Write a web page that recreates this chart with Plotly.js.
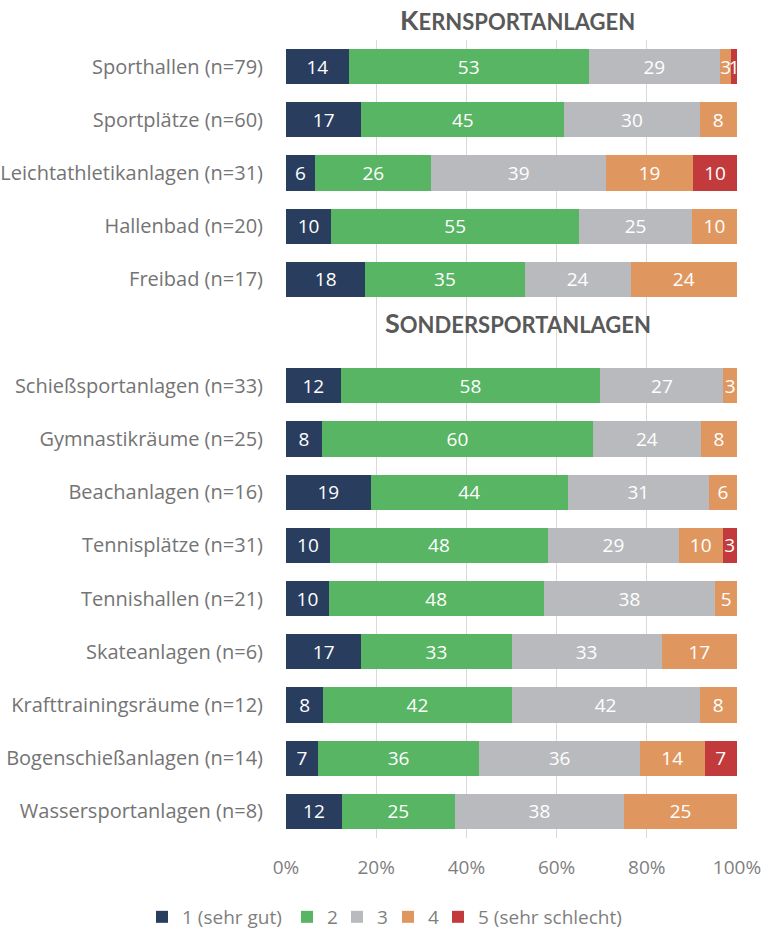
<!DOCTYPE html>
<html>
<head>
<meta charset="utf-8">
<script src="https://cdn.plot.ly/plotly-3.0.1.min.js"></script>
<style>html,body{margin:0;padding:0;background:#fff;}</style>
</head>
<body>
<div id="chart" style="width:763px;height:930px;"></div>
<script>
// Categories (top to bottom); ' ' is the spacer row for the second heading
const kernCategories = ['Sporthallen (n=79)', 'Sportplätze (n=60)', 'Leichtathletikanlagen (n=31)', 'Hallenbad (n=20)', 'Freibad (n=17)'];
const sonderCategories = ['Schießsportanlagen (n=33)', 'Gymnastikräume (n=25)', 'Beachanlagen (n=16)', 'Tennisplätze (n=31)', 'Tennishallen (n=21)', 'Skateanlagen (n=6)', 'Krafttrainingsräume (n=12)', 'Bogenschießanlagen (n=14)', 'Wassersportanlagen (n=8)'];
const spacer = ' ';
const categories = kernCategories.concat(sonderCategories);

// Percentages per rating (order matches `categories`)
const grade1 = [13.9, 16.7, 6.45, 10, 17.6, 12.1, 8, 18.75, 9.7, 9.5, 16.7, 8.3, 7.1, 12.4];
const grade2 = [53.2, 45, 25.8, 55, 35.3, 57.6, 60, 43.75, 48.4, 47.6, 33.3, 41.7, 35.7, 25];
const grade3 = [29.1, 30, 38.7, 25, 23.5, 27.3, 24, 31.25, 29.0, 38.1, 33.3, 41.7, 35.7, 37.6];
const grade4 = [2.53, 8.28, 19.35, 9.98, 23.58, 2.98, 7.98, 6.23, 9.7, 4.78, 16.68, 8.28, 14.3, 24.98];
const grade5 = [1.26, null, 9.68, null, null, null, null, null, 3.18, null, null, null, 7.18, null];

const seriesNames = ['1 (sehr gut)', '2', '3', '4', '5 (sehr schlecht)'];
const seriesValues = [grade1, grade2, grade3, grade4, grade5];
const seriesColors = ['#293D5E', '#57B563', '#B9BABD', '#E0975F', '#C23A3C'];

const xTickVals = [0, 20, 40, 60, 80, 100];
const xTickText = ['0%', '20%', '40%', '60%', '80%', '100%'];

const headingKern = 'Kernsportanlagen';
const headingSonder = 'Sondersportanlagen';

function smallCaps(word) {
  const w = word.toUpperCase();
  return '<span style="font-size:27px">' + w[0] + '</span><span style="font-size:22px">' + w.slice(1) + '</span>';
}

const FONT = '"Open Sans", "Noto Sans", sans-serif';
const HFONT = 'Lato, "Open Sans", sans-serif';

const W = 763;
// left edge (px) of each legend entry, one legend per series so the row does not wrap
const legendLeftPx = [142, 287, 337, 388, 438];
const legendIds = ['legend', 'legend2', 'legend3', 'legend4', 'legend5'];

const traces = seriesValues.map((vals, i) => ({
  type: 'bar',
  orientation: 'h',
  name: seriesNames[i],
  legend: legendIds[i],
  y: categories,
  x: vals,
  marker: {color: seriesColors[i], line: {width: 0}},
  texttemplate: '%{x:.0f}',
  textposition: 'inside',
  insidetextanchor: 'middle',
  constraintext: 'none',
  textfont: {color: '#ffffff', size: 19, family: FONT},
  hoverinfo: 'none',
  cliponaxis: false
}));

const layout = {
  width: W,
  height: 930,
  barmode: 'stack',
  bargap: 0.34,
  margin: {l: 286, r: 26, t: 40, b: 92},
  paper_bgcolor: '#ffffff',
  plot_bgcolor: '#ffffff',
  font: {family: FONT, color: '#747474', size: 19},
  showlegend: true,
  xaxis: {
    range: [0, 100],
    tickvals: xTickVals,
    ticktext: xTickText,
    showgrid: true,
    gridcolor: '#D9D9D9',
    gridwidth: 1,
    zeroline: false,
    showline: false,
    ticks: '',
    ticklabelstandoff: 16,
    tickfont: {size: 19, color: '#7f7f7f'},
    automargin: false,
    fixedrange: true
  },
  yaxis: {
    type: 'category',
    categoryorder: 'array',
    categoryarray: kernCategories.concat([spacer], sonderCategories),
    autorange: 'reversed',
    showgrid: false,
    zeroline: false,
    showline: false,
    ticks: '',
    ticklabelstandoff: 22,
    tickfont: {size: 20, color: '#747474'},
    automargin: false,
    fixedrange: true
  },
  annotations: [
    {text: smallCaps(headingKern), xref: 'paper', yref: 'paper', x: 0.5, y: 1, yanchor: 'bottom', yshift: 2, xshift: 6,
     showarrow: false, font: {family: HFONT, color: '#595959', weight: 'bold'}},
    {text: smallCaps(headingSonder), xref: 'paper', yref: 'y', x: 0.5, y: spacer, yanchor: 'middle', yshift: 10, xshift: 6,
     showarrow: false, font: {family: HFONT, color: '#595959', weight: 'bold'}}
  ]
};

legendIds.forEach((id, i) => {
  layout[id] = {
    orientation: 'h',
    xref: 'container', yref: 'container',
    x: legendLeftPx[i] / W, xanchor: 'left',
    y: 0.014, yanchor: 'middle',
    font: {size: 19, color: '#7f7f7f', family: FONT},
    itemwidth: 30,
    bgcolor: 'rgba(0,0,0,0)'
  };
});

Plotly.newPlot('chart', traces, layout, {displayModeBar: false, staticPlot: true});
</script>
</body>
</html>
